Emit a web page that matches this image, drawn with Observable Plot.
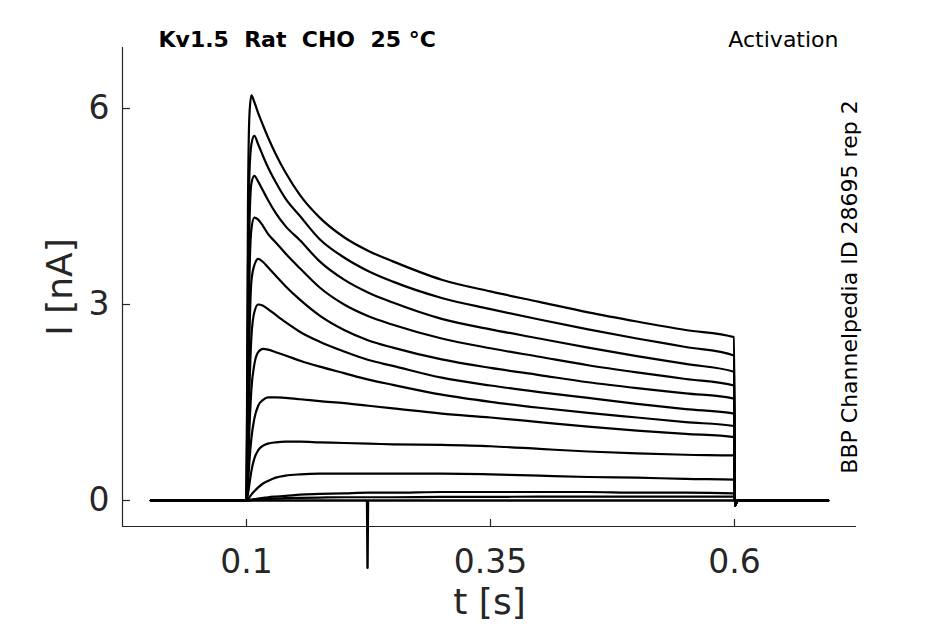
<!DOCTYPE html>
<html><head><meta charset="utf-8">
<script src="https://cdn.jsdelivr.net/npm/d3@7"></script>
<script src="https://cdn.jsdelivr.net/npm/@observablehq/plot@0.6"></script>
<style>
html,body{margin:0;padding:0;background:#fff;}
svg text{font-family:"DejaVu Sans",sans-serif;}
</style></head><body><div id="chart"></div>
<script>
// ---- data ----
const titleText = "Kv1.5\u00a0\u00a0Rat\u00a0\u00a0CHO\u00a0\u00a025\u00a0°C";
const protocolText = "Activation";
const sideText = "BBP Channelpedia ID 28695 rep 2";
const xLabel = "t [s]";
const yLabel = "I [nA]";
const xTicks = [0.1, 0.35, 0.6];
const yTicks = [0, 3, 6];
const xDomain = [-0.02705, 0.725];
const yDomain = [-0.398, 6.934];

// shared sample times (s)
const times = [0.002, 0.0995, 0.1, 0.1015, 0.103, 0.105, 0.108, 0.112, 0.117, 0.122, 0.13, 0.14, 0.155, 0.175,
  0.2, 0.225, 0.25, 0.3, 0.35, 0.4, 0.45, 0.5, 0.55, 0.5995, 0.6005, 0.603, 0.696];

// current (nA) per trace at the times above
const trace1  = [0,0,0, 4.5, 5.9, 6.2, 6.1, 5.93, 5.74, 5.56, 5.3, 5.02, 4.67, 4.33, 4.03, 3.82, 3.66, 3.38, 3.2, 3.04, 2.88, 2.74, 2.61, 2.5, -0.08, 0, 0];
const trace2  = [0,0,0, 3.5, 5.0, 5.45, 5.58, 5.45, 5.27, 5.1, 4.87, 4.62, 4.35, 4.0, 3.72, 3.51, 3.35, 3.1, 2.93, 2.77, 2.62, 2.48, 2.35, 2.22, -0.08, 0, 0];
const trace3  = [0,0,0, 2.6, 4.2, 4.85, 4.97, 4.88, 4.74, 4.6, 4.4, 4.2, 3.98, 3.66, 3.38, 3.18, 3.03, 2.78, 2.62, 2.48, 2.34, 2.21, 2.09, 1.97, -0.08, 0, 0];
const trace4  = [0,0,0, 1.8, 3.4, 4.15, 4.33, 4.3, 4.2, 4.08, 3.95, 3.78, 3.55, 3.26, 3.0, 2.82, 2.69, 2.48, 2.33, 2.2, 2.07, 1.96, 1.86, 1.76, -0.08, 0, 0];
const trace5  = [0,0,0, 1.2, 2.5, 3.35, 3.6, 3.7, 3.65, 3.57, 3.44, 3.28, 3.07, 2.83, 2.61, 2.45, 2.34, 2.16, 2.03, 1.92, 1.81, 1.72, 1.64, 1.56, -0.08, 0, 0];
const trace6  = [0,0,0, 0.8, 1.7, 2.5, 2.88, 3.0, 2.98, 2.93, 2.84, 2.73, 2.58, 2.43, 2.28, 2.15, 2.06, 1.88, 1.76, 1.66, 1.57, 1.48, 1.4, 1.33, -0.08, 0, 0];
const trace7  = [0,0,0, 0.5, 1.1, 1.7, 2.08, 2.27, 2.32, 2.31, 2.27, 2.22, 2.14, 2.05, 1.95, 1.85, 1.77, 1.62, 1.51, 1.42, 1.34, 1.27, 1.2, 1.14, -0.08, 0, 0];
const trace8  = [0,0,0, 0.25, 0.6, 0.95, 1.25, 1.45, 1.54, 1.58, 1.58, 1.57, 1.55, 1.52, 1.49, 1.45, 1.41, 1.33, 1.27, 1.2, 1.13, 1.07, 1.02, 0.97, -0.08, 0, 0];
const trace9  = [0,0,0, 0.1, 0.25, 0.45, 0.64, 0.77, 0.84, 0.87, 0.89, 0.9, 0.9, 0.89, 0.88, 0.87, 0.86, 0.85, 0.83, 0.79, 0.75, 0.72, 0.7, 0.69, -0.08, 0, 0];
const trace10 = [0,0,0, 0.02, 0.05, 0.09, 0.14, 0.2, 0.26, 0.3, 0.35, 0.38, 0.4, 0.41, 0.41, 0.41, 0.41, 0.41, 0.4, 0.38, 0.36, 0.35, 0.33, 0.32, -0.05, 0, 0];
const trace11 = [0,0,0, 0, 0.01, 0.015, 0.02, 0.03, 0.04, 0.05, 0.06, 0.07, 0.09, 0.1, 0.11, 0.12, 0.12, 0.13, 0.13, 0.13, 0.13, 0.12, 0.12, 0.11, -0.02, 0, 0];
const trace12 = [0,0,0, 0, 0, 0.005, 0.01, 0.015, 0.02, 0.025, 0.03, 0.035, 0.04, 0.045, 0.05, 0.05, 0.05, 0.055, 0.055, 0.06, 0.06, 0.06, 0.06, 0.06, -0.02, 0, 0];

// baseline trace with a single artefact spike
const spikeTimes  = [0.002, 0.2235, 0.224, 0.2245, 0.696];
const spikeValues = [0, 0, -1.03, 0, 0];

// ---- build tables ----
const traces = [trace1, trace2, trace3, trace4, trace5, trace6, trace7, trace8, trace9, trace10, trace11, trace12];
const rows = traces.flatMap((vals, k) => vals.map((v, i) => ({trace: k, t: times[i], v})));
const spikeRows = spikeTimes.map((t, i) => ({t, v: spikeValues[i]}));

const axisColor = "#262626";
const chart = Plot.plot({
  width: 945, height: 624,
  marginLeft: 122, marginRight: 89, marginTop: 47, marginBottom: 98,
  x: {domain: xDomain, axis: null},
  y: {domain: yDomain, axis: null},
  style: {background: "#fff", fontFamily: "DejaVu Sans", overflow: "visible"},
  marks: [
    Plot.ruleX([xDomain[0]], {stroke: axisColor, strokeWidth: 1.2}),
    Plot.ruleY([yDomain[0]], {stroke: axisColor, strokeWidth: 1.2}),
    Plot.tickX(xTicks, {x: d => d, insetTop: 472, stroke: axisColor, strokeWidth: 1.2}),
    Plot.tickY(yTicks, {y: d => d, insetRight: 726, stroke: axisColor, strokeWidth: 1.2}),
    Plot.line(spikeRows, {x: "t", y: "v", stroke: "black", strokeWidth: 2.4}),
    Plot.line(rows, {x: "t", y: "v", z: "trace", stroke: "black", strokeWidth: 2.2, curve: "monotone-x"}),
    Plot.text(xTicks, {x: d => d, frameAnchor: "bottom", lineAnchor: "middle", textAnchor: "middle", dy: 35.8, text: d => String(d), fontSize: 33, fill: axisColor}),
    Plot.text(yTicks, {y: d => d, frameAnchor: "left", lineAnchor: "middle", dx: -13, textAnchor: "end", text: d => String(d), fontSize: 33, fill: axisColor}),
    Plot.text([xLabel], {frameAnchor: "bottom", lineAnchor: "middle", textAnchor: "middle", dy: 76, text: d => d, fontSize: 36, fill: axisColor}),
    Plot.text([yLabel], {frameAnchor: "left", lineAnchor: "middle", textAnchor: "middle", dx: -62, rotate: -90, text: d => d, fontSize: 36, fill: axisColor}),
    Plot.text([titleText], {frameAnchor: "top-left", lineAnchor: "middle", dx: 36, dy: -7.3, textAnchor: "start", text: d => d, fontSize: 22, fontWeight: "bold", fill: "black"}),
    Plot.text([protocolText], {frameAnchor: "top-right", lineAnchor: "middle", dx: -18, dy: -7.3, textAnchor: "end", text: d => d, fontSize: 22, fill: "black"}),
    Plot.text([sideText], {frameAnchor: "right", lineAnchor: "middle", textAnchor: "middle", dx: -7, rotate: -90, text: d => d, fontSize: 22, fill: "black"})
  ]
});
document.getElementById("chart").appendChild(chart);
</script>
</body></html>
